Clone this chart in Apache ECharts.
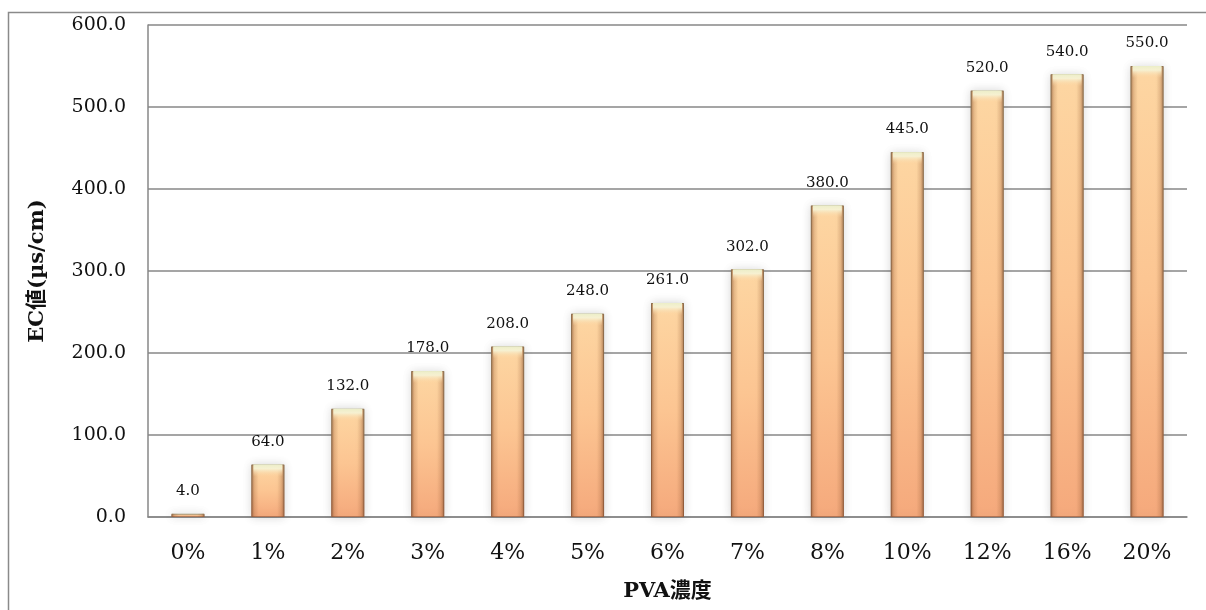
<!DOCTYPE html>
<html>
<head>
<meta charset="utf-8">
<script src="https://cdn.jsdelivr.net/npm/echarts@6/dist/echarts.min.js"></script>
<style>
  html, body { margin: 0; padding: 0; background: #fff; }
  #chart { width: 1206px; height: 610px; }
</style>
</head>
<body>
<div id="chart"></div>
<script>
// PVA concentration vs. electrical conductivity
const categories = ['0%', '1%', '2%', '3%', '4%', '5%', '6%', '7%', '8%', '10%', '12%', '16%', '20%'];
const ecValues = [4, 64, 132, 178, 208, 248, 261, 302, 380, 445, 520, 540, 550];
const yMin = 0;
const yMax = 600;
const yStep = 100;
const xTitle = 'PVA濃度';
const yTitle = 'EC値(µs/cm)';

const serif = '"DejaVu Serif", "Noto Sans CJK JP", serif';
const gray = '#878787';
const barW = 33;

// bright cap drawn on the top of each bar that is tall enough to hold it
const capValues = ecValues.map(v => (v >= 20 ? v : '-'));

const chart = echarts.init(document.getElementById('chart'), null, { renderer: 'canvas' });

chart.setOption({
  backgroundColor: '#ffffff',
  animation: false,
  graphic: [{
    type: 'rect',
    shape: { x: 8.5, y: 12.5, width: 1400, height: 800 },
    style: { fill: 'none', stroke: '#8a8a8a', lineWidth: 1.5 },
    silent: true
  }],
  grid: { left: 148, right: 19, top: 25, bottom: 93, containLabel: false },
  xAxis: {
    type: 'category',
    data: categories,
    name: xTitle,
    nameLocation: 'middle',
    nameGap: 64,
    nameTextStyle: { fontFamily: serif, fontWeight: 'bold', fontSize: 21, color: '#111' },
    axisLine: { show: true, lineStyle: { color: gray, width: 1.5 } },
    axisTick: { show: false },
    axisLabel: { fontFamily: serif, fontSize: 22, color: '#111', margin: 25 }
  },
  yAxis: {
    type: 'value',
    min: yMin,
    max: yMax,
    interval: yStep,
    name: yTitle,
    nameLocation: 'middle',
    nameRotate: 90,
    nameGap: 100,
    nameTextStyle: { fontFamily: serif, fontWeight: 'bold', fontSize: 21, color: '#111' },
    axisLine: { show: true, lineStyle: { color: gray, width: 1.5 } },
    axisTick: { show: false },
    axisLabel: {
      fontFamily: serif, fontSize: 19, color: '#111', margin: 22,
      formatter: v => v.toFixed(1)
    },
    splitLine: { show: true, lineStyle: { color: gray, width: 1.5 } }
  },
  series: [
    {
      // bar body: warm peach, yellower at the top and more salmon at the foot
      type: 'bar',
      data: ecValues,
      barWidth: barW,
      barGap: '-100%',
      itemStyle: {
        color: new echarts.graphic.LinearGradient(0, 0, 0, 1, [
          { offset: 0, color: '#fdd6a2' },
          { offset: 0.5, color: '#fcc592' },
          { offset: 1, color: '#f5a97c' }
        ]),
        borderWidth: 1,
        borderColor: new echarts.graphic.LinearGradient(0, 0, 0, 1, [
          { offset: 0, color: '#a29c7a' },
          { offset: 1, color: '#b27352' }
        ]),
        shadowBlur: 9,
        shadowColor: 'rgba(0,0,0,0.16)'
      },
      label: {
        show: true,
        position: 'top',
        distance: 15,
        fontFamily: serif,
        fontSize: 15,
        color: '#111',
        formatter: p => Number(p.value).toFixed(1)
      },
      z: 2
    },
    {
      // side shading over the same values gives the bars a rounded look
      type: 'bar',
      data: ecValues,
      barWidth: barW,
      barGap: '-100%',
      itemStyle: {
        color: new echarts.graphic.LinearGradient(0, 0, 1, 0, [
          { offset: 0, color: 'rgba(120,72,40,0.65)' },
          { offset: 0.1, color: 'rgba(150,90,50,0.22)' },
          { offset: 0.22, color: 'rgba(150,90,50,0)' },
          { offset: 0.78, color: 'rgba(150,90,50,0)' },
          { offset: 0.9, color: 'rgba(150,90,50,0.22)' },
          { offset: 1, color: 'rgba(120,72,40,0.65)' }
        ])
      },
      silent: true,
      z: 3
    },
    {
      type: 'pictorialBar',
      data: capValues,
      symbol: 'rect',
      symbolSize: [barW - 4, 12],
      symbolPosition: 'end',
      barGap: '-100%',
      itemStyle: {
        color: new echarts.graphic.LinearGradient(0, 0, 0, 1, [
          { offset: 0, color: 'rgba(236,238,200,1)' },
          { offset: 0.35, color: 'rgba(246,242,212,0.95)' },
          { offset: 1, color: 'rgba(253,214,162,0)' }
        ])
      },
      silent: true,
      z: 4
    }
  ]
});
</script>
</body>
</html>
